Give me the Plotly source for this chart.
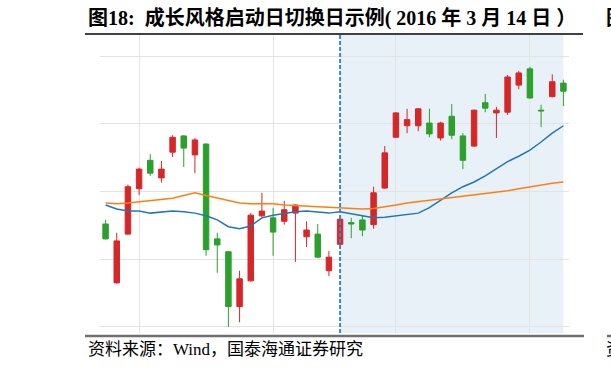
import plotly.graph_objects as go

# ---------------- data ----------------
dates = [
    "2016-02-05", "2016-02-15", "2016-02-16", "2016-02-17", "2016-02-18", "2016-02-19",
    "2016-02-22", "2016-02-23", "2016-02-24", "2016-02-25", "2016-02-26", "2016-02-29",
    "2016-03-01", "2016-03-02", "2016-03-03", "2016-03-04", "2016-03-07", "2016-03-08",
    "2016-03-09", "2016-03-10", "2016-03-11", "2016-03-14", "2016-03-15", "2016-03-16",
    "2016-03-17", "2016-03-18", "2016-03-21", "2016-03-22", "2016-03-23", "2016-03-24",
    "2016-03-25", "2016-03-28", "2016-03-29", "2016-03-30", "2016-03-31", "2016-04-01",
    "2016-04-05", "2016-04-06", "2016-04-07", "2016-04-08", "2016-04-11", "2016-04-12",
]
opens = [2052, 1965, 2037, 2104, 2146, 2120, 2158, 2182, 2154, 2170, 2030, 2011,
         1930, 1968, 2064, 2061, 2056, 2068, 2033, 2037, 1983, 2022, 2054, 2058,
         2051, 2105, 2180, 2197, 2197, 2201, 2179, 2211, 2182, 2167, 2231, 2216,
         2217, 2257, 2281, 2220, 2240, 2260]
highs = [2058, 2039, 2110, 2135, 2155, 2145, 2183, 2183, 2179, 2171, 2039, 2012,
         1983, 2068, 2098, 2076, 2086, 2081, 2056, 2052, 2012, 2060, 2061, 2065,
         2107, 2167, 2217, 2222, 2223, 2222, 2203, 2229, 2186, 2221, 2244, 2225,
         2272, 2278, 2284, 2228, 2273, 2265]
lows = [2029, 1964, 2036, 2095, 2123, 2113, 2151, 2136, 2127, 2005, 1980, 1900,
        1907, 1967, 2062, 2005, 2051, 1996, 2018, 2002, 1975, 2021, 2031, 2034,
        2045, 2104, 2179, 2186, 2189, 2180, 2175, 2177, 2133, 2166, 2217, 2179,
        2213, 2251, 2237, 2195, 2239, 2226]
closes = [2030, 2027, 2107, 2133, 2127, 2133, 2180, 2164, 2176, 2014, 2021, 1930,
          1971, 2065, 2071, 2040, 2073, 2080, 2043, 2003, 2003, 2059, 2052, 2043,
          2098, 2157, 2216, 2206, 2222, 2185, 2201, 2183, 2146, 2220, 2223, 2220,
          2269, 2275, 2238, 2219, 2262, 2248]
ma_short = [2080, 2074, 2071, 2071, 2068, 2070, 2071, 2070, 2068, 2064, 2058, 2048,
            2045, 2049, 2061, 2065, 2068, 2070, 2071, 2070, 2068, 2070, 2067, 2063,
            2061, 2062, 2064, 2065, 2068, 2076, 2087, 2098, 2107, 2114, 2123, 2133,
            2144, 2152, 2161, 2173, 2186, 2197]
ma_long = [2083, 2082, 2083, 2085, 2086, 2088, 2090, 2094, 2098, 2094, 2090, 2087,
           2083, 2082, 2082, 2082, 2080, 2079, 2079, 2077, 2076, 2076, 2075, 2074,
           2075, 2077, 2080, 2083, 2085, 2087, 2089, 2090, 2092, 2094, 2096, 2099,
           2101, 2104, 2107, 2109, 2112, 2114]
grid_dates = ["2016-02-17", "2016-03-04", "2016-03-21", "2016-04-07"]
y_ticks = [1900, 2000, 2100, 2200, 2300]
switch_date = "2016-03-14"
end_date = "2016-04-12"
title_text = "图18:  成长风格启动日切换日示例( 2016 年 3 月 14 日 ）"
source_text = "资料来源：Wind，国泰海通证券研究"

RED = "#d62728"
GREEN = "#2ca02c"
BLUE = "#1f77b4"
ORANGE = "#ff7f0e"
FONT = "Liberation Serif, Noto Sans CJK SC, serif"

# plot area in pixels
L, R, T, B = 100, 569, 35, 333
W, H = 611, 369


def px(x):
    return (x - L) / (R - L)


def py(y):
    return (B - y) / (B - T)


fig = go.Figure()
fig.add_trace(go.Candlestick(
    x=dates, open=opens, high=highs, low=lows, close=closes,
    increasing=dict(line=dict(color=RED, width=1), fillcolor=RED),
    decreasing=dict(line=dict(color=GREEN, width=1), fillcolor=GREEN),
    whiskerwidth=0, showlegend=False, hoverinfo="skip",
))
fig.add_trace(go.Scatter(x=dates, y=ma_short, mode="lines",
                         line=dict(color=BLUE, width=1.5), showlegend=False))
fig.add_trace(go.Scatter(x=dates, y=ma_long, mode="lines",
                         line=dict(color=ORANGE, width=1.5), showlegend=False))

shapes = [
    dict(type="rect", xref="x", yref="paper", x0=switch_date, x1=end_date, y0=0, y1=1,
         fillcolor="rgba(31,119,180,0.10)", line=dict(width=0), layer="below"),
    dict(type="line", xref="x", yref="paper", x0=switch_date, x1=switch_date, y0=0, y1=1,
         line=dict(color="#3a88c8", width=2, dash="4px,2px"), layer="above"),
    # title underline and bottom rule
    dict(type="line", xref="paper", yref="paper", x0=px(85), x1=px(583), y0=py(34), y1=py(34),
         line=dict(color="black", width=1.5)),
    dict(type="line", xref="paper", yref="paper", x0=px(85), x1=px(584), y0=py(336), y1=py(336),
         line=dict(color="#707070", width=2.5)),
    dict(type="line", xref="paper", yref="paper", x0=px(607), x1=px(640), y0=py(336), y1=py(336),
         line=dict(color="#707070", width=2.5)),
]

annotations = [
    dict(text="<b>" + title_text + "</b>", xref="paper", yref="paper", x=px(86), y=py(18),
         xanchor="left", yanchor="middle", showarrow=False,
         font=dict(family=FONT, size=20, color="black")),
    dict(text=source_text, xref="paper", yref="paper", x=px(86), y=py(349),
         xanchor="left", yanchor="middle", showarrow=False,
         font=dict(family=FONT, size=17, color="black")),
    dict(text="<b>图</b>", xref="paper", yref="paper", x=px(604), y=py(18),
         xanchor="left", yanchor="middle", showarrow=False,
         font=dict(family=FONT, size=20, color="black")),
    dict(text="资", xref="paper", yref="paper", x=px(604), y=py(349),
         xanchor="left", yanchor="middle", showarrow=False,
         font=dict(family=FONT, size=17, color="black")),
]

fig.update_layout(
    width=W, height=H,
    margin=dict(l=L, r=W - R, t=T, b=H - B, pad=0),
    paper_bgcolor="white", plot_bgcolor="white",
    shapes=shapes, annotations=annotations,
    boxgap=0.3,
    xaxis=dict(type="category", rangeslider=dict(visible=False),
               range=[-0.5, len(dates) - 0.5],
               tickvals=grid_dates, showticklabels=False, ticks="",
               showgrid=True, gridcolor="#e3e3e3", gridwidth=1,
               zeroline=False, showline=False, fixedrange=True),
    yaxis=dict(range=[1891, 2331], tickvals=y_ticks, showticklabels=False, ticks="",
               showgrid=True, gridcolor="#e3e3e3", gridwidth=1,
               zeroline=False, showline=False, fixedrange=True),
    showlegend=False,
)

fig.write_html("out.html", config={"displayModeBar": False})
